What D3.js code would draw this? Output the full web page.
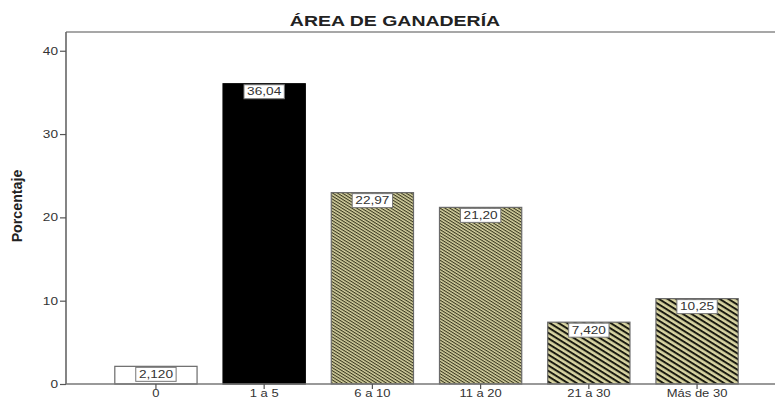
<!DOCTYPE html>
<html>
<head>
<meta charset="utf-8">
<script src="https://cdn.jsdelivr.net/npm/d3@7"></script>
<style>
  body { margin: 0; background: #fff; }
  svg { display: block; }
</style>
</head>
<body>
<svg id="chart" width="775" height="399"></svg>
<script>
// Land area groups (hectares) and percentage of farms in each
const categories = ["0", "1 a 5", "6 a 10", "11 a 20", "21 a 30", "Más de 30"];
const percentages = [2.12, 36.04, 22.97, 21.20, 7.42, 10.25];
const valueLabels = ["2,120", "36,04", "22,97", "21,20", "7,420", "10,25"];
const fillKinds = ["white", "black", "fine", "fine", "coarse", "coarse"];
const yTicks = [0, 10, 20, 30, 40];

const FONT = "Liberation Sans, Arial, sans-serif";
const STRETCH = 1.3; // wide lettering used throughout the chart

const svg = d3.select("#chart");
const margin = { left: 66, top: 32, bottom: 384 };

const x = d3.scaleBand()
  .domain(categories)
  .range([margin.left, 787])
  .paddingInner(0.24)
  .paddingOuter(0.451);

const y = d3.scaleLinear()
  .domain([0, 42.25])
  .range([margin.bottom, margin.top]);

// Hatch fills
const defs = svg.append("defs");
function hatch(id, period, lineW, angle, ink) {
  const p = defs.append("pattern")
    .attr("id", id)
    .attr("patternUnits", "userSpaceOnUse")
    .attr("width", 20)
    .attr("height", period)
    .attr("patternTransform", `rotate(${angle})`);
  p.append("rect").attr("width", 20).attr("height", period).attr("fill", "#d8d4a2");
  p.append("rect").attr("y", 0).attr("width", 20).attr("height", lineW).attr("fill", ink);
}
hatch("hatch-fine", 2.6, 1.1, 32, "#3a3820");
hatch("hatch-coarse", 4.6, 2.0, 32, "#1a1a10");

const fillFor = k => k === "white" ? "#fff"
  : k === "black" ? "#000"
  : k === "fine" ? "url(#hatch-fine)" : "url(#hatch-coarse)";

// Frame: top border
svg.append("line")
  .attr("x1", margin.left).attr("x2", 775)
  .attr("y1", margin.top).attr("y2", margin.top)
  .attr("stroke", "#8a8a8a").attr("stroke-width", 1.5);

// Y axis
const yAxis = d3.axisLeft(y).tickValues(yTicks).tickSize(6).tickPadding(3);
const yg = svg.append("g").attr("transform", `translate(${margin.left},0)`).call(yAxis);
yg.select(".domain").attr("stroke", "#666").attr("stroke-width", 1.6)
  .attr("d", `M0,${margin.top}V${margin.bottom}`);
yg.selectAll(".tick line").attr("stroke", "#555").attr("stroke-width", 1.2);
yg.selectAll(".tick text")
  .attr("font-family", FONT)
  .attr("font-size", 10.5).attr("fill", "#333")
  .attr("x", -8 / STRETCH)
  .attr("transform", `scale(${STRETCH},1)`);

// Bars
const bars = svg.append("g");
bars.selectAll("rect")
  .data(categories)
  .join("rect")
  .attr("x", d => x(d))
  .attr("y", (d, i) => y(percentages[i]))
  .attr("width", x.bandwidth())
  .attr("height", (d, i) => y(0) - y(percentages[i]))
  .attr("fill", (d, i) => fillFor(fillKinds[i]))
  .attr("stroke", (d, i) => fillKinds[i] === "black" ? "#000" : "#6a6a6a")
  .attr("stroke-width", 1.2);

// X axis
const xAxis = d3.axisBottom(x).tickSize(5).tickPadding(1);
const xg = svg.append("g").attr("transform", `translate(0,${margin.bottom})`).call(xAxis);
xg.select(".domain").attr("stroke", "#777").attr("stroke-width", 1.4)
  .attr("d", `M${margin.left},0H775`);
xg.selectAll(".tick line").attr("stroke", "#555").attr("stroke-width", 1.2);
xg.selectAll(".tick text")
  .attr("font-family", FONT)
  .attr("font-size", 10).attr("fill", "#333")
  .attr("transform", `scale(${STRETCH},1)`);

// Value boxes at the top of each bar
const labels = svg.append("g")
  .attr("font-family", FONT)
  .attr("font-size", 10.5);
categories.forEach((c, i) => {
  const cx = x(c) + x.bandwidth() / 2;
  const top = y(percentages[i]);
  const g = labels.append("g").attr("transform", `translate(${cx},${top})`);
  const t = g.append("text")
    .attr("y", 11.5)
    .attr("text-anchor", "middle")
    .attr("fill", "#333")
    .attr("transform", `scale(${STRETCH},1)`)
    .text(valueLabels[i]);
  const w = t.node().getBBox().width * STRETCH;
  g.insert("rect", "text")
    .attr("x", -w / 2 - 3).attr("y", 1)
    .attr("width", w + 6).attr("height", 14)
    .attr("fill", "#fff").attr("stroke", "#777").attr("stroke-width", 1);
});

// Title
svg.append("text")
  .attr("transform", `translate(395,26) scale(${STRETCH},1)`)
  .attr("text-anchor", "middle")
  .attr("font-family", FONT)
  .attr("font-weight", "bold").attr("font-size", 15)
  .attr("fill", "#222")
  .text("ÁREA DE GANADERÍA");

// Y axis title
svg.append("text")
  .attr("transform", "translate(22,206) rotate(-90) scale(0.95,1)")
  .attr("text-anchor", "middle")
  .attr("font-family", FONT)
  .attr("font-weight", "bold").attr("font-size", 15)
  .attr("fill", "#222")
  .text("Porcentaje");
</script>
</body>
</html>
